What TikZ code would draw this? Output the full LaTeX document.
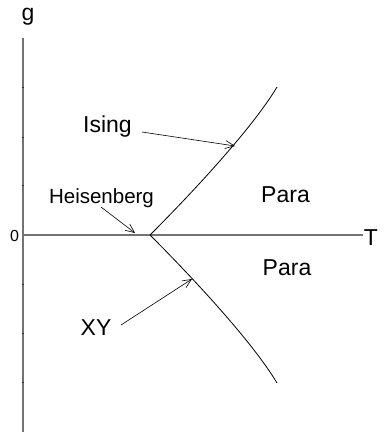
\documentclass[tikz,border=0pt]{standalone}
\usepackage{fontspec}
\setmainfont{Liberation Sans}
\usetikzlibrary{arrows.meta}
\begin{document}
\begin{tikzpicture}[x=1pt,y=-1pt,
  axis/.style={draw=black!55, line width=1.1pt},
  tick/.style={draw=black!80, line width=0.5pt},
  curve/.style={draw=black, line width=0.8pt},
  lab/.style={font=\fontsize{23}{23}\selectfont, inner sep=0pt, anchor=base},
  small/.style={font=\fontsize{20.5}{20.5}\selectfont, inner sep=0pt, anchor=base},
  ptr/.style={draw=black, line width=0.6pt, -{Straight Barb[length=9pt,width=8pt,line width=0.6pt]}}]
\useasboundingbox (0,0) rectangle (384,433);
% axes
\coordinate (ytop) at (23,38);
\coordinate (ybot) at (23,432);
\coordinate (xl) at (23,235);
\coordinate (xr) at (363,235);
\draw[axis] (ytop) -- (ybot);
\draw[axis] (xl) -- (xr);
\foreach \yy in {87,137,185,284,333,382}
  \draw[tick] (21.9,\yy) -- (24.1,\yy);
% labels
\node[lab] (g) at (28,21) {g};
\node[lab] (T) at (371,245) {T};
\node[font=\fontsize{16}{16}\selectfont, inner sep=0pt, anchor=base] (zero) at (14.5,241) {0};
\node[lab] (ising) at (107.5,132) {Ising};
\node[small] (heis) at (101.5,203) {Heisenberg};
\node[lab] (xy) at (96,335) {XY};
\node[lab] (para1) at (285.5,202) {Para};
\node[lab] (para2) at (287,275) {Para};
% phase boundaries
\coordinate (cp) at (150,235);
\coordinate (uend) at (277,87);
\coordinate (lend) at (277,383);
\draw[curve] (cp) .. controls (190,195) and (252,129) .. (uend);
\draw[curve] (cp) .. controls (190,275) and (252,341) .. (lend);
% pointers
\coordinate (isingS) at (142,132);
\coordinate (isingT) at (235,146);
\coordinate (heisS) at (101,207);
\coordinate (heisT) at (135,233);
\coordinate (xyS) at (121,325);
\coordinate (xyT) at (192,279);
\draw[ptr] (isingS) -- (isingT);
\draw[ptr] (heisS) -- (heisT);
\draw[ptr] (xyS) -- (xyT);
\end{tikzpicture}
\end{document}
